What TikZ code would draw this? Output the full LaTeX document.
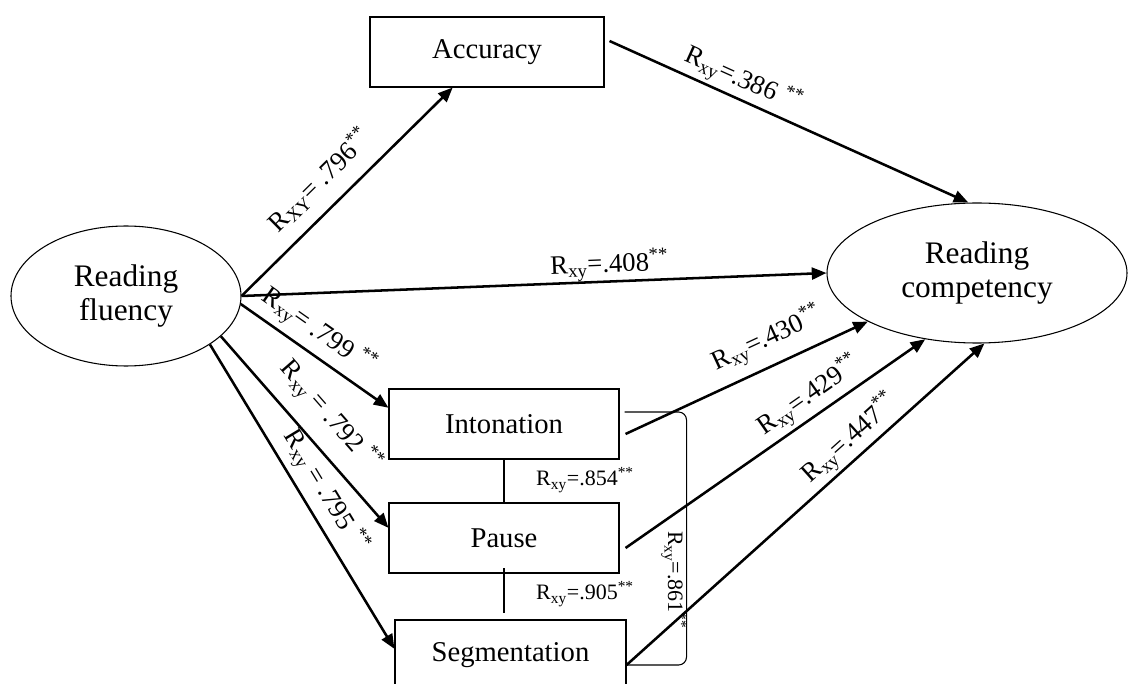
\documentclass[tikz,border=0pt]{standalone}
\usepackage{fontspec}
\setmainfont{Liberation Serif}
\usetikzlibrary{arrows.meta,shapes.geometric}
\begin{document}
\begin{tikzpicture}[x=0.75pt,y=-0.75pt,
  boxn/.style={draw, line width=0.8pt, inner sep=0pt, minimum height=52.5pt, font=\fontsize{21.5}{24}\selectfont},
  ell/.style={draw, ellipse, line width=0.8pt, inner sep=0pt, align=center, font=\fontsize{23.5}{25.5}\selectfont},
  conn/.style={line width=1.9pt, -{Triangle[length=11pt,width=9pt]}},
  lab/.style={font=\fontsize{20}{22}\selectfont, sloped, inner sep=0pt},
  slab/.style={font=\fontsize{16.5}{18}\selectfont, inner sep=0pt},
  thinl/.style={line width=0.8pt}
]
\clip (0,0) rectangle (1129,684);
\node[ell, minimum width=172.5pt, minimum height=105pt] (flu) at (126,296) {Reading\\fluency};
\node[ell, minimum width=225pt, minimum height=105pt] (comp) at (977,273) {Reading\\competency};
\node[boxn, minimum width=175.5pt] (acc) at (487,52) {Accuracy};
\node[boxn, minimum width=172.5pt] (int) at (504,424) {Intonation};
\node[boxn, minimum width=172.5pt] (pau) at (504,538) {Pause};
\node[boxn, minimum width=173.25pt] (seg) at (510.5,655) {Segmentation};

\draw[conn] (flu.east) -- node[lab, pos=.46, above=10pt] {R\textsubscript{XY}= .796\textsuperscript{**}} (acc.226);
\draw[conn] ([shift={(5,-11)}]acc.east) -- node[lab, pos=.35, above=2pt] {R\textsubscript{xy}=.386 \textsuperscript{**}} (comp.97);
\draw[conn] (flu.east) -- node[lab, pos=.63, above=0pt] {R\textsubscript{xy}=.408\textsuperscript{**}} (comp.west);
\draw[conn] (flu.-4.4) -- node[lab, pos=.44, above=4.5pt] {R\textsubscript{xy}= .799 \textsuperscript{**}} (int.172);
\draw[conn] (flu.-23) -- node[lab, pos=.52, above=10pt] {R\textsubscript{xy} = .792 \textsuperscript{**}} (pau.175);
\draw[conn] (flu.-30) -- node[lab, pos=.52, above=4.5pt] {R\textsubscript{xy} = .795 \textsuperscript{**}} (seg.177.5);
\draw[conn] ([shift={(6,10)}]int.east) -- node[lab, pos=.63, above=7.5pt] {R\textsubscript{xy}=.430\textsuperscript{**}} (comp.-156);
\draw[conn] ([shift={(6,10)}]pau.east) -- node[lab, pos=.65, above=2.5pt] {R\textsubscript{xy}=.429\textsuperscript{**}} (comp.232.4);
\draw[conn] ([shift={(0,10)}]seg.east) -- node[lab, pos=.66, above=2pt] {R\textsubscript{xy}=.447\textsuperscript{**}} (comp.276.5);

\draw[thinl] (int.south) -- (pau.north);
\draw[thinl] ([yshift=4pt]pau.south) -- ([yshift=5pt]pau.south |- seg.north);
\draw[thinl, rounded corners=6pt] ([shift={(5,-12)}]int.east) -- ++(62,0) |- ([shift={(0,10)}]seg.east);

\node[slab] (l854) at (585,480) {R\textsubscript{xy}=.854\textsuperscript{**}};
\node[slab] (l905) at (585,594) {R\textsubscript{xy}=.905\textsuperscript{**}};
\node[slab, rotate=-90] (l861) at (674,580) {R\textsubscript{xy}=.861\textsuperscript{**}};
\end{tikzpicture}
\end{document}
